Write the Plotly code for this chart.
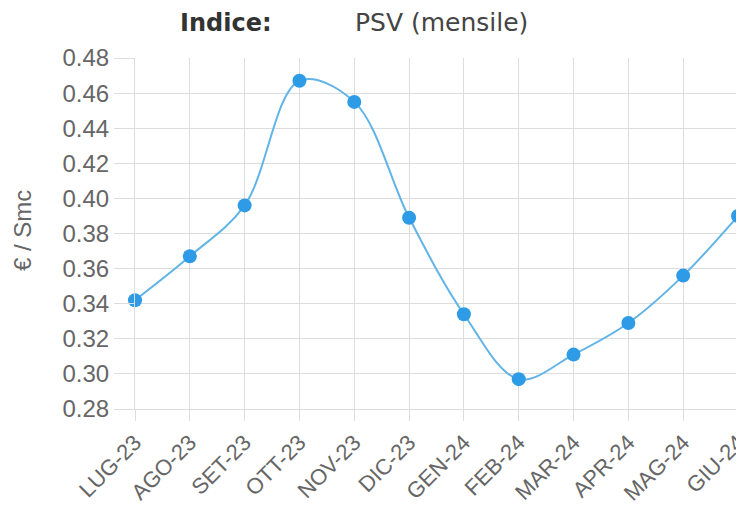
import plotly.graph_objects as go

months = ["LUG-23", "AGO-23", "SET-23", "OTT-23", "NOV-23", "DIC-23",
          "GEN-24", "FEB-24", "MAR-24", "APR-24", "MAG-24", "GIU-24"]
psv = [0.342, 0.367, 0.396, 0.467, 0.455, 0.389,
       0.334, 0.297, 0.311, 0.329, 0.356, 0.390]
y_ticks = [0.28, 0.30, 0.32, 0.34, 0.36, 0.38, 0.40, 0.42, 0.44, 0.46, 0.48]

# page body has an 8px margin, so the figure is drawn at (8, 8)
OFF = 8
W, H = 736, 500
L, R, T, B = 127, 6, 50, 99
pw = W - L - R
ph = H - T - B


def px_x(px):
    return (px - OFF - L) / pw


def px_y(py):
    return (OFF + H - B - py) / ph


fig = go.Figure()
fig.add_trace(go.Scatter(
    x=list(range(len(months))), y=psv, mode="lines+markers",
    line=dict(color="#62b4e8", width=2, shape="spline", smoothing=1.0),
    marker=dict(color="#2e9be6", size=14),
    showlegend=False, cliponaxis=False,
))

grid = "#dddddd"
fig.update_xaxes(
    range=[0, len(months) - 1], tickmode="array",
    tickvals=list(range(len(months))), ticktext=months, tickangle=-45,
    showgrid=True, gridcolor=grid, gridwidth=1,
    ticks="outside", ticklen=11, tickcolor=grid, tickwidth=1,
    showline=True, linecolor=grid, zeroline=False,
    automargin=False, ticklabeloverflow="allow",
    tickfont=dict(family="Liberation Sans, Arial", size=22, color="#666666"),
)
fig.update_yaxes(
    range=[0.28, 0.48], tickmode="array", tickvals=y_ticks,
    ticktext=[f"{v:.2f}" for v in y_ticks],
    showgrid=True, gridcolor=grid, gridwidth=1,
    ticks="outside", ticklen=20, tickcolor=grid, tickwidth=1,
    showline=True, linecolor=grid, zeroline=False, automargin=False,
    tickfont=dict(family="Liberation Sans, Arial", size=24, color="#666666"),
)

fig.add_annotation(text="€ / Smc", textangle=-90, xref="paper", yref="paper",
                   x=px_x(23), y=px_y(231), xanchor="center", yanchor="middle",
                   showarrow=False,
                   font=dict(family="Liberation Sans, Arial", size=24, color="#666666"))
fig.add_annotation(text="<b>Indice:</b>", xref="paper", yref="paper",
                   x=px_x(226), y=px_y(23), xanchor="center", yanchor="middle",
                   showarrow=False,
                   font=dict(family="DejaVu Sans", size=24, color="#333333"))
fig.add_annotation(text="PSV (mensile)", xref="paper", yref="paper",
                   x=px_x(441), y=px_y(23), xanchor="center", yanchor="middle",
                   showarrow=False,
                   font=dict(family="DejaVu Sans", size=25, color="#444444"))

fig.update_layout(
    width=W, height=H, margin=dict(l=L, r=R, t=T, b=B, autoexpand=False),
    plot_bgcolor="white", paper_bgcolor="white",
)
fig.write_html("out.html")
